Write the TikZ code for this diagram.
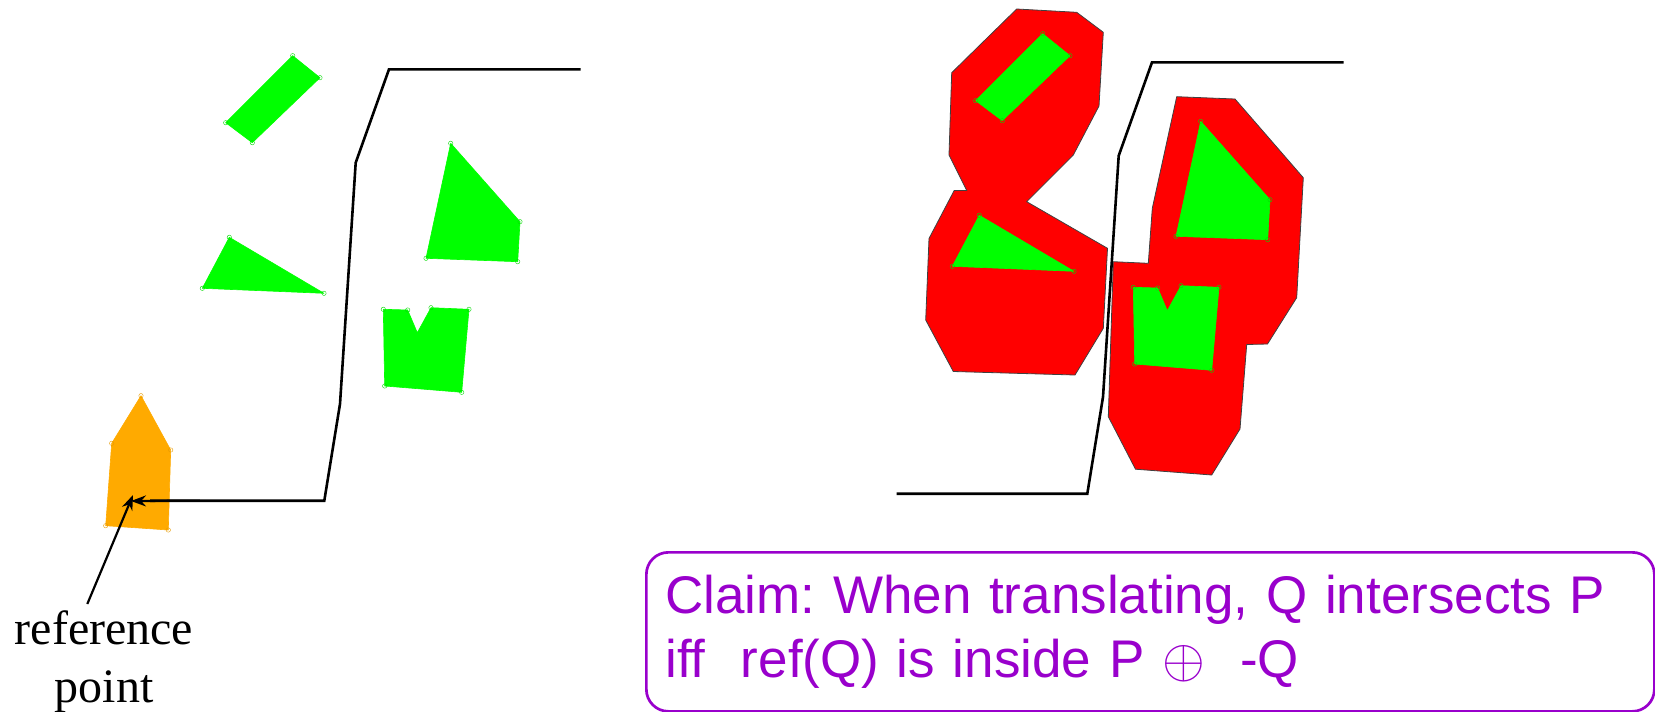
\documentclass[tikz,border=0pt]{standalone}
\usepackage{graphicx}
\usepackage{fontspec}
\setmainfont{Liberation Serif}
\newfontfamily\claimfont{Liberation Sans}
\usetikzlibrary{arrows.meta}

\definecolor{obstgreen}{RGB}{0,255,0}
\definecolor{cspacered}{RGB}{255,0,0}
\definecolor{robotorange}{RGB}{255,170,0}
\definecolor{claimpurple}{RGB}{153,0,204}

\tikzset{
  obst/.style={fill=obstgreen, draw=obstgreen, line width=0.6pt, line join=round},
  robot/.style={fill=robotorange, draw=robotorange, line width=0.6pt, line join=round},
  cspace/.style={fill=cspacered, draw=black!75, line width=0.8pt, line join=miter},
  vmark/.style={draw=obstgreen!85!black, line width=0.4pt},
  rmark/.style={draw=robotorange!90!black, line width=0.4pt},
  wall/.style={draw=black, line width=2.6pt, line join=miter},
  pointer/.style={draw=black, line width=2.2pt, -{Stealth[length=15pt,width=11pt]}},
  claimbox/.style={draw=claimpurple, line width=2.7pt, rounded corners=22pt,
    text=claimpurple, inner xsep=19pt, inner ysep=0pt, text width=970pt,
    minimum height=159pt, align=left, anchor=north west,
    font=\claimfont\fontsize{53}{64}\selectfont\frenchspacing},
  tag/.style={inner sep=0pt, align=center, font=\fontsize{48}{57.7}\selectfont},
}

% small ring at every vertex of a polygon
\newcommand\markverts[2]{\foreach \v in {#2}{\draw[#1] \v circle[radius=2.2];}}

% thin circled plus for the Minkowski sum, at the size of the claim text
\newcommand\msumop{{\fontsize{10}{12}\selectfont\scalebox{5.5}{$\oplus$}}}

% the four obstacles of P
\newcommand\drawObstacles{%
  \path[obst] (292.7,55.7) -- (320,77.7) -- (252.3,142.7) -- (225.7,122.7) -- cycle;
  \markverts{vmark}{(292.7,55.7),(320,77.7),(252.3,142.7),(225.7,122.7)}
  \path[obst] (229.3,237.3) -- (324,293.3) -- (202.3,288.3) -- cycle;
  \markverts{vmark}{(229.3,237.3),(324,293.3),(202.3,288.3)}
  \path[obst] (450.7,143.3) -- (520,221.7) -- (517.7,261.7) -- (426,258.3) -- cycle;
  \markverts{vmark}{(450.7,143.3),(520,221.7),(517.7,261.7),(426,258.3)}
  \path[obst] (383.3,309.3) -- (407.7,310) -- (417.3,332.7) -- (431,307.7)
    -- (469,309.3) -- (461.7,392.3) -- (384.7,386) -- cycle;
  \markverts{vmark}{(383.3,309.3),(407.7,310),(431,307.7),(469,309.3),(461.7,392.3),(384.7,386)}
}

\begin{document}
\begin{tikzpicture}[x=1pt,y=-1pt]
\useasboundingbox (0,0) rectangle (1655,712);

% ---------- left: workspace with obstacles and robot Q ----------
\drawObstacles

\path[robot] (141,395.7) -- (170.7,450) -- (168.3,530) -- (105.7,525.7) -- (111.7,443.3) -- cycle;
\markverts{rmark}{(141,395.7),(170.7,450),(168.3,530),(105.7,525.7),(111.7,443.3)}

\coordinate (ref) at (131,501);
\coordinate (wallL) at (580.7,69.3);
\draw[wall] (wallL) -- (389,69.3) -- (355.7,162.7) -- (340,404) -- (324.3,500.7) -- (150,500.7);
\draw[pointer] (200,500.7) -- (ref);

\node[tag] (lbl) at (104,661.6) {reference\\point};
\coordinate (lbltail) at (87.3,604);
\draw[pointer] (lbltail) -- (133,495);

% ---------- right: configuration space P (+) -Q ----------
\path[cspace] (1016.7,9) -- (1076.7,12.3) -- (1103.3,32.3) -- (1099,106) -- (1073.3,155)
  -- (1026.7,201.7) -- (1107.5,248.3) -- (1103.3,328.3) -- (1075,375) -- (953.3,371.5)
  -- (925.7,320) -- (929,238.5) -- (954.2,190.5) -- (966.7,190.5) -- (949,155)
  -- (951.7,72.7) -- cycle;
\path[cspace] (1176.7,96.7) -- (1235,99) -- (1303.3,177.7) -- (1296.7,297.7) -- (1267.5,344)
  -- (1246.7,344.5) -- (1240,429) -- (1211.7,475) -- (1135.5,469.2) -- (1108.3,416.7)
  -- (1113.3,261.7) -- (1148.3,263.3) -- (1152.3,208.3) -- cycle;

\begin{scope}[shift={(750,-22)}]
  \drawObstacles
\end{scope}

\coordinate (wallR) at (1343.7,62.3);
\coordinate (wallRend) at (896.7,493.7);
\draw[wall] (wallR) -- (1152,62.3) -- (1118.7,155.7) -- (1103,397) -- (1087.3,493.7) -- (wallRend);

% ---------- claim ----------
\node[claimbox] (claim) at (645,551)
  {Claim: When translating, Q intersects P\\iff\ \ ref(Q) is inside P \msumop\ \ -Q};
\end{tikzpicture}
\end{document}
